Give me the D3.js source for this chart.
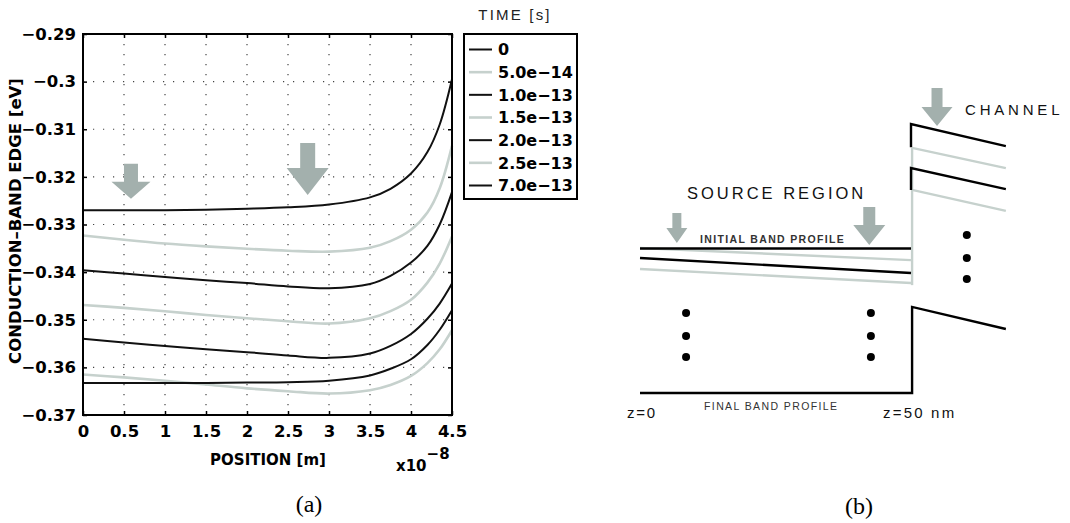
<!DOCTYPE html>
<html><head><meta charset="utf-8">
<script src="https://cdn.jsdelivr.net/npm/d3@7"></script>
<style>
html,body{margin:0;padding:0;background:#fff;}
svg{display:block;}
</style></head>
<body>
<svg id="c" width="1070" height="523"></svg>
<script>
// ---------------- DATA (panel a) ----------------
const positions = [0, 0.5, 1, 1.5, 2, 2.5, 3, 3.5, 3.75, 4.0, 4.2, 4.35, 4.5]; // x10^-8 m
const timeLabels = ["0", "5.0e\u221214", "1.0e\u221213", "1.5e\u221213", "2.0e\u221213", "2.5e\u221213", "7.0e\u221213"];
const seriesColors = ["#111111", "#c6d1cd", "#111111", "#c6d1cd", "#111111", "#c6d1cd", "#111111"];
const band_t0    = [-0.3270,-0.3270,-0.3270,-0.3269,-0.3267,-0.3264,-0.3258,-0.3243,-0.3225,-0.3193,-0.3148,-0.3090,-0.2995];
const band_t5e14 = [-0.3323,-0.3332,-0.3340,-0.3346,-0.3351,-0.3355,-0.3357,-0.3349,-0.3335,-0.3311,-0.3275,-0.3224,-0.3135];
const band_t1e13 = [-0.3396,-0.3403,-0.3410,-0.3417,-0.3423,-0.3430,-0.3434,-0.3425,-0.3408,-0.3380,-0.3345,-0.3300,-0.3232];
const band_t15e13= [-0.3469,-0.3475,-0.3482,-0.3490,-0.3497,-0.3503,-0.3508,-0.3497,-0.3482,-0.3458,-0.3422,-0.3382,-0.3325];
const band_t2e13 = [-0.3540,-0.3548,-0.3555,-0.3562,-0.3568,-0.3575,-0.3580,-0.3571,-0.3555,-0.3530,-0.3498,-0.3466,-0.3424];
const band_t25e13= [-0.3615,-0.3621,-0.3628,-0.3636,-0.3644,-0.3650,-0.3655,-0.3648,-0.3637,-0.3618,-0.3591,-0.3562,-0.3522];
const band_t7e13 = [-0.3633,-0.3633,-0.3633,-0.3633,-0.3632,-0.3631,-0.3628,-0.3617,-0.3603,-0.3583,-0.3553,-0.3521,-0.3480];
const allSeries = [band_t0, band_t5e14, band_t1e13, band_t15e13, band_t2e13, band_t25e13, band_t7e13];
const xTicks = [0, 0.5, 1, 1.5, 2, 2.5, 3, 3.5, 4, 4.5];
const xTickLabels = ["0","0.5","1","1.5","2","2.5","3","3.5","4","4.5"];
const yTicks = [-0.29,-0.30,-0.31,-0.32,-0.33,-0.34,-0.35,-0.36,-0.37];
const yTickLabels = ["\u22120.29","\u22120.3","\u22120.31","\u22120.32","\u22120.33","\u22120.34","\u22120.35","\u22120.36","\u22120.37"];
// annotation arrows: tip in data units
const plotArrowTips = [[0.585, -0.3246], [2.74, -0.3238]];

// ---------------- DATA (panel b, schematic units: z in nm, E arbitrary) ----------------
const blackLines = [
  [[0,53.7],[50,53.7]],
  [[0,50.2],[50,44.6]],
  [[50,91.4],[50,100],[67.5,91.8]],
  [[50,75.5],[50,83.6],[67.5,75.8]],
  [[0,0],[50.2,0],[50.2,32],[67.5,23.8]]
];
const greyLines = [
  [[0,53.9],[50,49.4]],
  [[0,46.1],[50,40.9]],
  [[50.2,91.1],[67.5,83.6]],
  [[50.2,75.5],[67.5,67.7]],
  [[50.2,91.1],[50.2,40.1]]
];
const dotsB = [[8.5,29.7],[8.5,21.2],[8.5,13.4],[42.6,29.7],[42.6,21.2],[42.6,13.4],[60.3,58.7],[60.3,50.2],[60.3,42.4]];
const schemArrowTips = [[6.8,55.8],[42.3,55.0],[54.8,99.3]];

// ---------------- DRAW ----------------
const svg = d3.select("#c");
svg.append("rect").attr("width",1070).attr("height",523).attr("fill","#fff");

const L=83, R=452, T=34, B=415;
const x = d3.scaleLinear().domain([0,4.5]).range([L,R]);
const y = d3.scaleLinear().domain([-0.37,-0.29]).range([B,T]);
const boldFont = "'DejaVu Sans', sans-serif";

// grid
const grid = svg.append("g");
grid.selectAll("line.vg").data(xTicks.slice(1,-1)).enter().append("line")
  .attr("x1",d=>x(d)).attr("x2",d=>x(d)).attr("y1",T).attr("y2",B)
  .attr("stroke","#444").attr("stroke-width",1.2).attr("stroke-dasharray","1.2,8.8");
grid.selectAll("line.hg").data(yTicks.slice(1,-1)).enter().append("line")
  .attr("y1",d=>y(d)).attr("y2",d=>y(d)).attr("x1",L).attr("x2",R)
  .attr("stroke","#444").attr("stroke-width",1.2).attr("stroke-dasharray","1.2,8.8");

// grey block arrows: shape = [total length, head length, head half-width, shaft half-width]
const arrowColor = "#a3b0ad";
function blockArrow(g, tx, ty, shape){
  const [total, hh, hw, sw] = shape;
  const pts=[[tx-sw,ty-total],[tx+sw,ty-total],[tx+sw,ty-hh],[tx+hw,ty-hh],[tx,ty],[tx-hw,ty-hh],[tx-sw,ty-hh]];
  g.append("path").attr("d",d3.line()(pts)+"Z").attr("fill",arrowColor);
}
const plotArrowShapes = [[35,17,19.5,7],[52,27,21,7.5]];
const ag = svg.append("g");
plotArrowTips.forEach((p,i)=>blockArrow(ag, x(p[0]), y(p[1]), plotArrowShapes[i]));

// curves
const line = d3.line().x((d,i)=>x(positions[i])).y(d=>y(d)).curve(d3.curveCatmullRom.alpha(0.5));
const cg = svg.append("g");
allSeries.forEach((s,i)=>{
  cg.append("path").attr("d",line(s)).attr("fill","none")
    .attr("stroke",seriesColors[i]).attr("stroke-width", i%2? 2.6:2);
});

// axes (MATLAB-style inward ticks on all sides)
const axB = svg.append("g").attr("transform",`translate(0,${B})`)
  .call(d3.axisBottom(x).tickValues(xTicks).tickFormat((d,i)=>xTickLabels[i]).tickSize(-4).tickPadding(10));
const axL = svg.append("g").attr("transform",`translate(${L},0)`)
  .call(d3.axisLeft(y).tickValues(yTicks).tickFormat((d,i)=>yTickLabels[i]).tickSize(-4).tickPadding(7));
const axT = svg.append("g").attr("transform",`translate(0,${T})`)
  .call(d3.axisTop(x).tickValues(xTicks).tickFormat("").tickSize(-4));
const axR = svg.append("g").attr("transform",`translate(${R},0)`)
  .call(d3.axisRight(y).tickValues(yTicks).tickFormat("").tickSize(-4));
[axB,axL,axT,axR].forEach(a=>{
  a.select(".domain").remove();
  a.selectAll(".tick line").attr("stroke","#000").attr("stroke-width",1.5);
  a.selectAll("text").attr("font-family",boldFont).attr("font-weight","bold")
    .attr("font-size",16.5).attr("fill","#000");
});
axB.selectAll("text").attr("dy","0.71em");
svg.append("rect").attr("x",L).attr("y",T).attr("width",R-L).attr("height",B-T)
  .attr("fill","none").attr("stroke","#000").attr("stroke-width",2);

// axis labels
svg.append("text").attr("transform",`translate(21,221) rotate(-90)`)
  .attr("text-anchor","middle").attr("font-family",boldFont).attr("font-weight","bold")
  .attr("font-size",16.5).text("CONDUCTION\u2013BAND EDGE [eV]");
svg.append("text").attr("x",268).attr("y",465).attr("text-anchor","middle")
  .attr("font-family",boldFont).attr("font-weight","bold").attr("font-size",15).text("POSITION [m]");
const ex = svg.append("text").attr("x",396).attr("y",471)
  .attr("font-family",boldFont).attr("font-weight","bold").attr("font-size",15);
ex.append("tspan").text("x10");
ex.append("tspan").attr("dy",-12).attr("font-size",15).text("\u22128");

// legend
svg.append("text").attr("x",515).attr("y",20).attr("text-anchor","middle")
  .attr("font-family","'Liberation Sans', Arial, sans-serif").attr("font-size",15)
  .attr("letter-spacing",2.2).attr("fill","#222").text("TIME [s]");
svg.append("rect").attr("x",464).attr("y",34).attr("width",113).attr("height",165)
  .attr("fill","#fff").attr("stroke","#000").attr("stroke-width",2);
const lg = svg.append("g");
const legY = d3.scaleLinear().domain([0,6]).range([49.5,185.5]);
timeLabels.forEach((t,i)=>{
  lg.append("line").attr("x1",469).attr("x2",492).attr("y1",legY(i)).attr("y2",legY(i))
    .attr("stroke",seriesColors[i]).attr("stroke-width",i%2?2.6:2);
  lg.append("text").attr("x",498).attr("y",legY(i)).attr("dy","0.36em")
    .attr("font-family",boldFont).attr("font-weight","bold").attr("font-size",16).text(t);
});

// caption (a)
svg.append("text").attr("x",309).attr("y",512).attr("text-anchor","middle")
  .attr("font-family","'Liberation Serif', 'Times New Roman', serif").attr("font-size",24).text("(a)");

// ---------------- panel (b) ----------------
const zs = d3.scaleLinear().domain([0,50]).range([640,911]);
const es = d3.scaleLinear().domain([0,100]).range([393,124]);
const sl = d3.line().x(d=>zs(d[0])).y(d=>es(d[1]));
const bg = svg.append("g");
greyLines.forEach(l=>bg.append("path").attr("d",sl(l)).attr("fill","none")
  .attr("stroke","#c6d1cd").attr("stroke-width",2.4));
blackLines.forEach(l=>bg.append("path").attr("d",sl(l)).attr("fill","none")
  .attr("stroke","#000").attr("stroke-width",2.4).attr("stroke-linejoin","miter"));
bg.selectAll("circle").data(dotsB).enter().append("circle")
  .attr("cx",d=>zs(d[0])).attr("cy",d=>es(d[1])).attr("r",4).attr("fill","#000");
const schemArrowShapes = [[30,15,10.5,4.5],[38,20,16,6],[38,19,15.5,5.5]];
schemArrowTips.forEach((p,i)=>blockArrow(bg, zs(p[0]), es(p[1]), schemArrowShapes[i]));

const sf = "'Liberation Sans', Arial, sans-serif";
svg.append("text").attr("x",965).attr("y",115).attr("font-family",sf).attr("font-size",15)
  .attr("letter-spacing",3.8).attr("fill","#111").text("CHANNEL");
svg.append("text").attr("x",687).attr("y",199).attr("font-family",sf).attr("font-size",16.5)
  .attr("letter-spacing",3).attr("fill","#111").text("SOURCE REGION");
svg.append("text").attr("x",700).attr("y",243).attr("font-family",sf).attr("font-size",10.5)
  .attr("font-weight","bold").attr("letter-spacing",1.35).attr("fill","#333").text("INITIAL BAND PROFILE");
svg.append("text").attr("x",704).attr("y",410).attr("font-family",sf).attr("font-size",10.5)
  .attr("letter-spacing",1.4).attr("fill","#333").text("FINAL BAND PROFILE");
svg.append("text").attr("x",627).attr("y",418).attr("font-family",sf).attr("font-size",15)
  .attr("letter-spacing",1.8).attr("fill","#111").text("z=0");
svg.append("text").attr("x",883).attr("y",418).attr("font-family",sf).attr("font-size",15)
  .attr("letter-spacing",2.2).attr("fill","#111").text("z=50 nm");
svg.append("text").attr("x",859).attr("y",514).attr("text-anchor","middle")
  .attr("font-family","'Liberation Serif', 'Times New Roman', serif").attr("font-size",24).text("(b)");
</script>
</body></html>
